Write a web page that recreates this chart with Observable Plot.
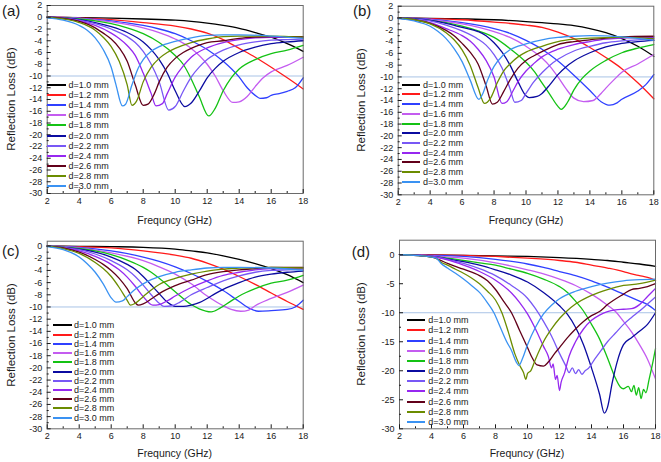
<!DOCTYPE html>
<html><head><meta charset="utf-8">
<script src="https://cdn.jsdelivr.net/npm/d3@7"></script>
<script src="https://cdn.jsdelivr.net/npm/@observablehq/plot@0.6"></script>
<style>
body{margin:0;background:#fff;}
#root{position:relative;width:661px;height:462px;overflow:hidden;font-family:"Liberation Sans",Arial,sans-serif;color:#1a1a1a;background:#fff;}
.panel{position:absolute;}
.t{position:absolute;white-space:nowrap;line-height:1;}
.sw{position:absolute;height:2px;}
</style></head><body><div id="root"></div>
<script>
const thicknesses = ["1.0","1.2","1.4","1.6","1.8","2.0","2.2","2.4","2.6","2.8","3.0"];
const legendLabels = thicknesses.map(d => "d=" + d + " mm");
const colors = ["#000000","#ff1a1a","#2f40ff","#c45cf0","#14c214","#0b0ba0","#7858f5","#9628f0","#62001a","#6b8c00","#3a92f2"];
const xMajor = [2,4,6,8,10,12,14,16,18];
const xMinor = [3,5,7,9,11,13,15,17];
const yMajorAB = [2,0,-2,-4,-6,-8,-10,-12,-14,-16,-18,-20,-22,-24,-26,-28,-30];
const yMinorAB = [1,-1,-3,-5,-7,-9,-11,-13,-15,-17,-19,-21,-23,-25,-27,-29];
const yMajorC = [0,-2,-4,-6,-8,-10,-12,-14,-16,-18,-20,-22,-24,-26,-28,-30];
const yMajorD = [0,-5,-10,-15,-20,-25,-30];
const yMinorD = [-2.5,-7.5,-12.5,-17.5,-22.5,-27.5];
const refLine = [-10];

// Panel (a): [frequency GHz, reflection loss dB] per thickness
const curvesA = [
 [[2,0],[4,-0.05],[6,-0.15],[8,-0.3],[10,-0.5],[11,-0.7],[12,-1.0],[13,-1.4],[14,-1.9],[15,-2.6],[16,-3.4],[17,-4.5],[18,-5.8]],
 [[2,0],[4,-0.1],[6,-0.4],[8,-0.9],[10,-1.5],[11,-2.0],[12,-2.7],[13,-3.8],[14,-5.3],[15,-6.8],[16,-8.5],[17,-10.3],[18,-12.2]],
 [[2,0],[4,-0.15],[6,-0.6],[8,-1.4],[9,-2.0],[10,-2.8],[11,-4.0],[12,-5.5],[13,-7.5],[14,-10.2],[14.5,-12],[15,-13.3],[15.3,-13.8],[15.7,-13.7],[16,-13.3],[16.5,-13.0],[17,-12.6],[17.5,-12.0],[18,-10.3]],
 [[2,0],[4,-0.2],[6,-0.8],[8,-1.8],[9,-2.6],[10,-3.7],[11,-5.3],[12,-8.0],[12.5,-10],[13,-12.5],[13.6,-14.5],[14,-14.4],[14.5,-13.5],[15,-11.8],[15.5,-10.3],[16,-9.3],[17,-8.2],[18,-6.8]],
 [[2,0],[4,-0.3],[5,-0.6],[6,-1.1],[7,-1.8],[8,-2.8],[9,-4.3],[10,-6.5],[10.5,-8],[11,-10.5],[11.5,-13.5],[12.1,-16.8],[12.5,-15.5],[13,-12.5],[13.5,-10.3],[14,-8.8],[15,-7.2],[16,-6.2],[17,-5.6],[18,-4.8]],
 [[2,0],[4,-0.4],[5,-0.9],[6,-1.6],[7,-2.6],[8,-4.2],[8.5,-5.5],[9,-7.2],[9.5,-9.5],[10,-12.5],[10.6,-15.2],[11,-14.6],[11.5,-12.6],[12,-10.3],[12.5,-8.7],[13,-7.5],[14,-6],[15,-5.1],[16,-4.5],[17,-4.2],[18,-4.0]],
 [[2,0],[4,-0.5],[5,-1.1],[6,-2],[7,-3.3],[7.5,-4.3],[8,-5.8],[8.5,-8],[9,-11],[9.6,-15.8],[10,-15.2],[10.5,-12.6],[11,-10.2],[11.5,-8.5],[12,-7.2],[13,-5.6],[14,-4.7],[15,-4.2],[16,-3.9],[17,-3.8],[18,-3.7]],
 [[2,0],[3,-0.2],[4,-0.6],[5,-1.4],[6,-2.7],[6.5,-3.6],[7,-4.8],[7.5,-6.5],[8,-9.5],[8.5,-13],[8.8,-15.1],[9.2,-14.7],[9.5,-13],[10,-10.2],[10.5,-8.3],[11,-6.8],[12,-5.2],[13,-4.3],[14,-3.8],[15,-3.5],[16,-3.4],[18,-3.4]],
 [[2,0],[3,-0.2],[4,-0.7],[5,-1.8],[5.5,-2.7],[6,-3.7],[6.5,-5.2],[7,-7.5],[7.5,-11.5],[8,-15],[8.3,-14.8],[8.7,-13],[9,-11],[9.5,-8.5],[10,-7],[10.5,-6],[11,-5.3],[12,-4.3],[13,-4.0],[14,-3.6],[15,-3.4],[16,-3.3],[18,-3.3]],
 [[2,0],[3,-0.3],[4,-0.9],[5,-2.2],[5.5,-3.4],[6,-5],[6.5,-7.5],[7,-11.5],[7.3,-15],[7.6,-14.2],[8,-11],[8.5,-8.5],[9,-7],[9.5,-6],[10,-5.3],[11,-4.3],[12,-3.7],[13,-3.3],[14,-3.2],[16,-3.2],[18,-3.4]],
 [[2,-0.1],[3,-0.5],[4,-1.4],[4.5,-2.2],[5,-3.5],[5.5,-5.5],[6,-8.5],[6.3,-11.5],[6.7,-15.1],[6.9,-14.8],[7.3,-11.5],[7.7,-8.6],[8,-7.2],[8.5,-5.8],[9,-5],[10,-4.1],[11,-3.5],[12,-3.1],[13,-3.0],[14,-3.0],[16,-3.2],[18,-3.6]]
];
// Panel (b)
const curvesB = [
 [[2,0],[4,-0.05],[6,-0.15],[8,-0.3],[10,-0.6],[11,-0.8],[12,-1.0],[13,-1.3],[14,-1.8],[15,-2.5],[16,-3.5],[17,-4.8],[18,-6.5]],
 [[2,0],[4,-0.1],[6,-0.3],[8,-0.7],[10,-1.2],[11,-1.6],[12,-2.4],[13,-3.5],[14,-5.0],[15,-6.7],[16,-8.6],[17,-11],[18,-13.7]],
 [[2,0],[4,-0.2],[6,-0.8],[8,-1.8],[9,-2.6],[10,-3.8],[11,-5.3],[12,-7.3],[13,-9.7],[14,-12.3],[14.7,-14.2],[15.25,-14.8],[15.7,-14.4],[16,-13.8],[17,-12.4],[17.5,-11.3],[18,-9.6]],
 [[2,0],[4,-0.3],[6,-1.0],[8,-2.3],[9,-3.3],[10,-4.8],[11,-6.8],[11.5,-8.2],[12,-10],[12.5,-12],[13,-13.6],[13.6,-14.2],[14.2,-14.0],[14.7,-12.8],[15,-11.9],[15.5,-10.5],[16,-9.2],[17,-7.8],[18,-6.2]],
 [[2,0],[4,-0.4],[5,-0.8],[6,-1.4],[7,-2.2],[8,-3.3],[9,-5.2],[10,-7.5],[10.5,-9],[11,-11],[11.5,-13],[12,-15],[12.2,-15.5],[12.6,-14.3],[13,-12.2],[13.5,-10.3],[14,-9],[15,-7.2],[16,-5.9],[17,-5.1],[18,-4.5]],
 [[2,0],[4,-0.4],[5,-0.9],[6,-1.6],[7,-2.3],[7.5,-3],[8,-4.2],[8.5,-5.8],[9,-8],[9.5,-10.8],[10,-13.2],[10.2,-13.5],[10.7,-13.3],[11,-12.8],[11.5,-11.3],[12,-9.6],[12.5,-8.3],[13,-7.3],[14,-5.9],[15,-4.9],[16,-4.3],[17,-4.0],[18,-3.8]],
 [[2,0],[3,-0.2],[4,-0.5],[5,-1.2],[6,-2.2],[7,-3.6],[7.5,-4.6],[8,-6.2],[8.5,-8.5],[9,-12],[9.3,-14.3],[9.7,-14.0],[10,-12.8],[10.5,-10.8],[11,-9.3],[11.5,-8],[12,-7],[13,-5.6],[14,-4.8],[15,-4.2],[16,-3.9],[17,-3.7],[18,-3.6]],
 [[2,0],[3,-0.3],[4,-0.8],[5,-1.8],[6,-3.0],[6.5,-3.9],[7,-5.3],[7.5,-7.2],[8,-10],[8.5,-14.5],[8.8,-14.2],[9.2,-12.3],[9.5,-10.8],[10,-9],[10.5,-7.7],[11,-6.6],[12,-5.3],[13,-4.5],[14,-4],[15,-3.6],[16,-3.4],[18,-3.3]],
 [[2,0],[3,-0.3],[4,-0.9],[5,-2.1],[5.5,-3],[6,-4.3],[6.5,-5.8],[7,-7.8],[7.5,-11.5],[7.9,-14.6],[8.2,-14.3],[8.6,-12.5],[9,-10.5],[9.5,-8.5],[10,-7.2],[10.5,-6.4],[11,-5.7],[12,-4.5],[13,-4.0],[14,-3.7],[15,-3.4],[16,-3.2],[18,-3.1]],
 [[2,0],[3,-0.3],[4,-1.0],[5,-2.5],[5.5,-3.7],[6,-5.4],[6.5,-8],[7,-11.8],[7.4,-14.5],[7.8,-13.5],[8.2,-11],[8.6,-9],[9,-7.8],[9.5,-6.6],[10,-5.8],[11,-4.8],[12,-4.0],[13,-3.6],[14,-3.4],[16,-3.3],[18,-3.5]],
 [[2,-0.1],[3,-0.5],[4,-1.4],[4.5,-2.3],[5,-3.5],[5.5,-5.2],[6,-7.4],[6.5,-10.5],[7.05,-13.8],[7.3,-12.8],[7.6,-10.5],[8,-8.2],[8.5,-6.5],[9,-5.4],[10,-4.4],[11,-3.7],[12,-3.3],[13,-3.1],[14,-3.0],[16,-3.2],[18,-3.8]]
];
// Panel (c)
const curvesC = [
 [[2,0],[4,-0.05],[6,-0.1],[8,-0.2],[10,-0.5],[11,-0.8],[12,-1.1],[13,-1.6],[14,-2.2],[15,-2.9],[16,-3.7],[17,-4.7],[18,-6.0]],
 [[2,0],[4,-0.1],[6,-0.3],[8,-0.8],[10,-1.5],[11,-2.0],[12,-2.8],[13,-3.8],[14,-5.0],[15,-6.3],[16,-7.7],[17,-9.1],[18,-10.4]],
 [[2,0],[4,-0.2],[6,-0.8],[8,-1.8],[9,-2.5],[10,-3.4],[11,-4.5],[12,-5.8],[13,-7.3],[14,-9.1],[14.7,-10.3],[15.2,-10.7],[16,-10.6],[17,-10.4],[17.5,-10],[18,-8.9]],
 [[2,0],[4,-0.3],[6,-1.1],[8,-2.4],[9,-3.4],[10,-4.6],[11,-6.2],[12,-8.2],[13,-9.8],[13.5,-10.4],[14.1,-10.7],[14.6,-10.5],[15,-9.8],[16,-8.6],[17,-7.6],[18,-6.4]],
 [[2,0],[4,-0.4],[5,-0.8],[6,-1.4],[7,-2.3],[8,-3.5],[8.5,-4.3],[9,-5.3],[10,-7.5],[11,-9.6],[11.5,-10.3],[12.25,-10.8],[12.8,-10.2],[13.5,-9],[14,-8.2],[15,-7],[16,-6.1],[17,-5.6],[18,-4.8]],
 [[2,0],[4,-0.5],[5,-1.0],[6,-1.8],[7,-3.0],[7.5,-3.8],[8,-5.0],[8.5,-6.4],[9,-7.8],[9.5,-9.2],[10,-9.9],[10.5,-9.9],[11,-9.7],[11.5,-9.3],[12,-8.6],[12.5,-7.8],[13,-7.1],[14,-6.0],[15,-5.1],[16,-4.6],[17,-4.3],[18,-4.1]],
 [[2,0],[3,-0.2],[4,-0.6],[5,-1.3],[6,-2.4],[7,-3.9],[7.5,-5],[8,-6.4],[8.5,-8],[9,-9.4],[9.3,-9.9],[9.8,-9.8],[10.3,-9.2],[11,-8],[12,-6.8],[13,-5.7],[14,-4.9],[15,-4.3],[16,-4],[17,-3.9],[18,-3.8]],
 [[2,0],[3,-0.3],[4,-0.8],[5,-1.7],[6,-3.0],[6.5,-3.9],[7,-5.1],[7.5,-6.6],[8,-8.3],[8.6,-9.7],[9,-9.6],[9.5,-9],[10,-8.2],[11,-6.8],[12,-5.7],[13,-4.8],[14,-4.3],[15,-3.9],[16,-3.7],[18,-3.6]],
 [[2,0],[3,-0.3],[4,-1.0],[5,-2.2],[5.5,-3.0],[6,-4.0],[6.5,-5.3],[7,-7.0],[7.5,-9.3],[7.7,-9.7],[8,-9.5],[8.5,-8.7],[9,-7.8],[10,-6.5],[11,-5.6],[12,-4.7],[13,-4.2],[14,-3.9],[15,-3.7],[16,-3.5],[18,-3.5]],
 [[2,0],[3,-0.4],[4,-1.2],[5,-2.7],[5.5,-3.7],[6,-5.0],[6.5,-6.8],[7,-8.9],[7.2,-9.7],[7.5,-9.4],[8,-8.3],[8.5,-7.2],[9,-6.3],[10,-5.3],[11,-4.6],[12,-4.1],[13,-3.8],[14,-3.6],[16,-3.5],[18,-3.6]],
 [[2,-0.1],[3,-0.6],[4,-1.8],[4.5,-2.9],[5,-4.3],[5.5,-6.2],[6,-8.5],[6.3,-9.2],[6.7,-9.0],[7,-8.3],[7.5,-7.1],[8,-6.2],[8.5,-5.5],[9,-5],[10,-4.3],[11,-3.9],[12,-3.6],[13,-3.5],[14,-3.5],[16,-3.6],[18,-4.0]]
];
// Panel (d)
const curvesD = [
 [[2,0],[4,-0.05],[6,-0.1],[8,-0.2],[10,-0.3],[12,-0.5],[14,-0.8],[15,-1.0],[16,-1.3],[17,-1.6],[18,-2.0]],
 [[2,0],[4,-0.05],[6,-0.1],[8,-0.3],[10,-0.6],[12,-1.0],[13,-1.3],[14,-1.8],[15,-2.3],[16,-2.9],[16.5,-3.3],[17,-3.6],[17.5,-3.9],[18,-4.4]],
 [[2,0],[4,-0.1],[6,-0.3],[8,-0.8],[10,-1.6],[11,-2.2],[12,-2.9],[13,-3.6],[14,-4.5],[15,-5.6],[16,-6.8],[17,-8.0],[17.5,-8.6],[18,-9.6]],
 [[2,0],[4,-0.2],[6,-0.6],[8,-1.4],[10,-2.6],[11,-3.3],[12,-4.2],[13,-5.3],[14,-6.8],[15,-8.7],[15.5,-9.8],[16,-11.5],[16.5,-13.3],[17,-15.5],[17.5,-18],[18,-21.4]],
 [[2,0],[4,-0.3],[5,-0.6],[6,-1.0],[7,-1.4],[8,-1.8],[9,-2.5],[10,-3.2],[11,-4.2],[12,-5.5],[12.5,-6.5],[13,-8.0],[13.5,-9.7],[14,-12],[14.5,-14.5],[15,-17.8],[15.5,-21.3],[15.8,-22.8],[16,-23.1],[16.3,-22.7],[16.5,-23.6],[16.65,-22.5],[16.8,-24.2],[16.95,-22.9],[17.1,-24.8],[17.25,-23.2],[17.4,-23.8],[17.6,-21.5],[17.8,-19],[18,-16.2]],
 [[2,0],[4,-0.3],[5,-0.7],[6,-1.2],[7,-1.8],[8,-2.6],[9,-3.5],[10,-4.7],[11,-6.5],[12,-8.8],[12.5,-10.3],[13,-12.5],[13.5,-15.5],[14,-19.5],[14.5,-24],[14.8,-27.3],[15,-26.3],[15.3,-22],[15.6,-18.5],[16,-15.5],[16.5,-14.3],[17,-13.2],[17.5,-12],[18,-10]],
 [[2,0],[4,-0.3],[5,-0.8],[6,-1.5],[7,-2.4],[8,-3.6],[9,-5.3],[10,-7.5],[10.5,-9.3],[11,-11.5],[11.5,-14],[12,-17],[12.4,-19.2],[12.6,-20.3],[12.8,-19.5],[13,-20.5],[13.2,-19.8],[13.4,-20.6],[13.6,-20.0],[13.8,-19.6],[14.2,-18],[14.6,-16.5],[15,-15],[15.5,-13.5],[16,-12],[16.5,-10.8],[17,-9.7],[17.5,-8.5],[18,-7.3]],
 [[2,0],[4,-0.3],[5,-0.9],[6,-1.8],[7,-2.9],[8,-4.4],[9,-6.6],[9.5,-8.2],[10,-10.2],[10.5,-12.8],[11,-15.8],[11.3,-17.5],[11.5,-19.5],[11.6,-18.8],[11.75,-21.5],[11.85,-20.8],[12,-23.4],[12.1,-22],[12.3,-20.5],[12.6,-17.5],[13,-15],[13.5,-12.8],[14,-11.3],[14.5,-10.4],[15,-9.8],[15.5,-9.5],[16,-9.4],[16.5,-9.3],[17,-8.6],[17.5,-7.2],[18,-5.8]],
 [[2,0],[4,-0.4],[4.5,-0.9],[5,-1.5],[6,-2.5],[7,-3.6],[7.5,-4.5],[8,-6.0],[8.5,-8],[9,-10],[9.5,-13],[10,-16],[10.3,-17.8],[10.6,-19],[11.0,-19.2],[11.3,-18.5],[11.7,-17],[12,-16],[12.5,-14.3],[13,-12.8],[13.5,-11.5],[14,-10.5],[14.5,-9.8],[15,-8.6],[16,-6.8],[16.5,-6.0],[17,-5.8],[17.5,-5.5],[18,-5.0]],
 [[2,0],[4,-0.4],[4.3,-0.6],[4.6,-1.3],[5,-1.8],[5.5,-2.5],[6,-3.2],[6.5,-4.0],[7,-5.0],[7.5,-6.3],[8,-7.8],[8.4,-10],[8.8,-13.3],[9.2,-17],[9.5,-19],[9.75,-20.3],[9.9,-21.5],[10.0,-20.5],[10.2,-20.0],[10.5,-18],[11,-15],[11.5,-12.8],[12,-11],[12.5,-9.6],[13,-8.5],[14,-7.0],[15,-6.0],[16,-5.3],[17,-5.0],[18,-4.4]],
 [[2,0],[4,-0.4],[4.3,-0.6],[4.6,-1.5],[5,-2.3],[5.5,-3.2],[6,-4.2],[6.5,-5.3],[7,-6.5],[7.5,-8.3],[7.9,-10],[8.3,-12.5],[8.7,-15],[9.0,-16.5],[9.3,-18.5],[9.46,-19.1],[9.7,-17.8],[10,-15.5],[10.5,-12.5],[11,-10.2],[11.5,-8.7],[12,-7.6],[13,-6.3],[14,-5.5],[15,-4.9],[16,-4.5],[17,-4.3],[18,-4.2]]
];

const panels = [
 {name:"(a)", curves:curvesA, left:0, top:0, w:330, h:231, fl:46.7, fr:302.7, ft:5, fb:193, yDomain:[-30,2], yMajor:yMajorAB, yMinor:yMinorAB,
  lab:[2,10], yt:[11.7,99], xt:[174.7,220], leg:{x:47, w:18.5, tx:68.5, y0:85, step:10.1}},
 {name:"(b)", curves:curvesB, left:330, top:0, w:331, h:231, fl:67.7, fr:323.3, ft:5.7, fb:194.3, yDomain:[-30,2], yMajor:yMajorAB, yMinor:yMinorAB,
  lab:[23,10], yt:[31.7,100], xt:[196,220], leg:{x:71.7, w:18.3, tx:93, y0:84.7, step:9.7}},
 {name:"(c)", curves:curvesC, left:0, top:231, w:330, h:231, fl:46.7, fr:302.7, ft:9.7, fb:197.3, yDomain:[-30,0.8], yMajor:yMajorC, yMinor:yMinorAB.slice(1),
  lab:[2,18.7], yt:[11.7,103.5], xt:[174.7,221.7], leg:{x:53, w:18.7, tx:74, y0:94.3, step:9.24}},
 {name:"(d)", curves:curvesD, left:330, top:231, w:331, h:231, fl:69, fr:325, ft:8.7, fb:197.3, yDomain:[-30,2.5], yMajor:yMajorD, yMinor:yMinorD,
  lab:[21.7,19.5], yt:[31.7,103], xt:[197,221.7], leg:{x:76.7, w:18.3, tx:98.3, y0:89.3, step:10.17}}
];

const root = document.getElementById("root");
function addText(txt, x, y, size, extra) {
  const el = document.createElement("div");
  el.className = "t";
  el.textContent = txt;
  el.style.left = x + "px";
  el.style.top = y + "px";
  el.style.fontSize = size + "px";
  el.style.transform = extra || "translate(0,-50%)";
  root.appendChild(el);
  return el;
}
const plainFormat = d => String(d);

for (const p of panels) {
  const rows = [];
  p.curves.forEach((c, i) => c.forEach(([f, rl]) => rows.push({d: thicknesses[i], f, rl})));
  const chart = Plot.plot({
    width: p.w, height: p.h,
    marginLeft: p.fl, marginRight: p.w - p.fr, marginTop: p.ft, marginBottom: p.h - p.fb,
    x: {domain: [2, 18]},
    y: {domain: p.yDomain},
    color: {domain: thicknesses, range: colors},
    style: {fontFamily: "Liberation Sans, Arial, sans-serif", fontSize: "9px", color: "#1a1a1a", background: "transparent"},
    marks: [
      Plot.ruleY(refLine, {stroke: "#a9c3e6", strokeWidth: 1}),
      Plot.line(rows, {x: "f", y: "rl", z: "d", stroke: "d", strokeWidth: 1.3, curve: "monotone-x"}),
      Plot.frame({stroke: "#6a6a6a"}),
      Plot.axisX(xMajor, {tickSize: -4, tickPadding: 8, tickFormat: plainFormat, label: null}),
      Plot.axisX(xMinor, {tickSize: -2, tickFormat: () => "", label: null}),
      Plot.axisY(p.yMajor, {tickSize: -4, tickPadding: 9, tickFormat: plainFormat, label: null}),
      Plot.axisY(p.yMinor, {tickSize: -2, tickFormat: () => "", label: null})
    ]
  });
  const wrap = document.createElement("div");
  wrap.className = "panel";
  wrap.style.left = p.left + "px";
  wrap.style.top = p.top + "px";
  wrap.appendChild(chart);
  root.appendChild(wrap);

  addText(p.name, p.left + p.lab[0], p.top + p.lab[1], 15);
  addText("Reflection Loss (dB)", p.left + p.yt[0], p.top + p.yt[1], 11.5, "translate(-50%,-50%) rotate(-90deg)");
  addText("Frequncy (GHz)", p.left + p.xt[0], p.top + p.xt[1], 10.5, "translate(-50%,-50%)");

  legendLabels.forEach((lab, i) => {
    const cy = p.top + p.leg.y0 + i * p.leg.step;
    const sw = document.createElement("div");
    sw.className = "sw";
    sw.style.left = (p.left + p.leg.x) + "px";
    sw.style.top = (cy - 1) + "px";
    sw.style.width = p.leg.w + "px";
    sw.style.background = colors[i];
    root.appendChild(sw);
    addText(lab, p.left + p.leg.tx, cy, 9);
  });
}
</script></body></html>
